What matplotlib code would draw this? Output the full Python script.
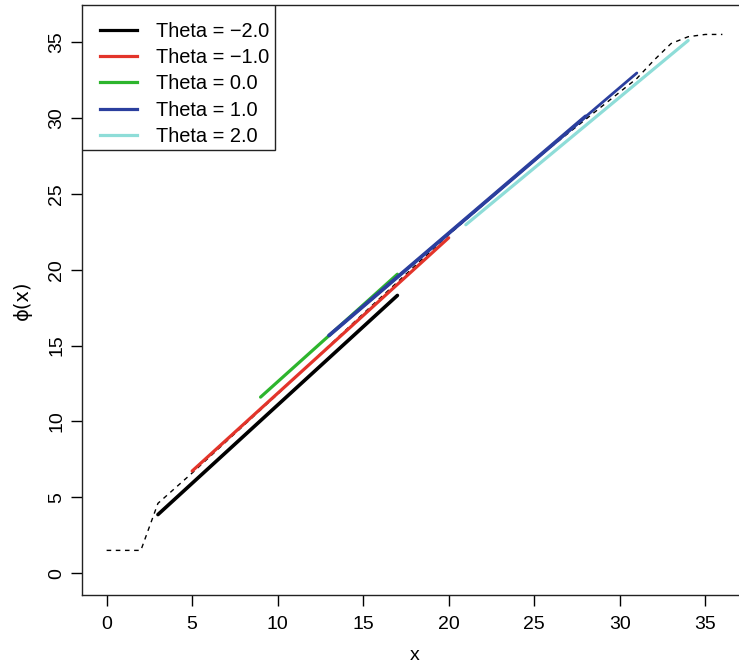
import matplotlib
matplotlib.use("Agg")
import matplotlib.pyplot as plt
from matplotlib.lines import Line2D
from matplotlib.patches import Rectangle

plt.rcParams['font.family'] = ['Liberation Sans', 'DejaVu Sans']

# phi(x) reference curve (dashed)
phi_x = [0, 2, 3, 5, 10, 15, 20, 25, 28, 31, 32, 33, 34, 35, 36]
phi_y = [1.5, 1.5, 4.6, 6.6, 11.8, 17.1, 22.3, 27.2, 29.9, 32.6, 33.8, 34.9, 35.35, 35.5, 35.5]

# fitted linear pieces for each Theta
thetas = [-2.0, -1.0, 0.0, 1.0, 2.0]
x_start = [3, 5, 9, 13, 21]
x_end = [17, 20, 17, 31, 34]
y_start = [3.86, 6.73, 11.6, 15.66, 22.96]
y_end = [18.3, 22.1, 19.7, 32.96, 35.1]
colors = ['#000000', '#E3342A', '#2DB52D', '#2B3F9E', '#8EDDD8']
widths = [2.6, 2.3, 2.3, 2.0, 2.3]

# overlapping sub-range for Theta = 1.0 (drawn heavier)
blue_x = [13, 28]
blue_y = [15.66, 30.1]

fig = plt.figure(figsize=(7.39, 6.67), dpi=100)
ax = fig.add_axes([82 / 739, 72 / 667, 665 / 739, 590 / 667])

ax.plot(phi_x, phi_y, color='black', lw=1.0, linestyle=(0, (3.3, 3.3)))

for xs, xe, ys, ye, c, w in zip(x_start, x_end, y_start, y_end, colors, widths):
    ax.plot([xs, xe], [ys, ye], color=c, lw=w, solid_capstyle='round')
ax.plot(blue_x, blue_y, color=colors[3], lw=2.7, solid_capstyle='round')

ax.set_xlim(-1.44, 37.44)
ax.set_ylim(-1.44, 37.44)
ax.set_xticks(range(0, 40, 5))
ax.set_yticks(range(0, 40, 5))
ax.tick_params(direction='out', length=8, width=1, labelsize=14)
ax.tick_params(axis='x', pad=7)
ax.tick_params(axis='y', pad=4)
plt.setp(ax.get_yticklabels(), rotation=90, va='center')
for s in ax.spines.values():
    s.set_linewidth(1.0)
    s.set_color('#222222')

ax.set_xlabel('x', fontsize=14, labelpad=10)
ax.set_ylabel('ϕ(x)', fontsize=14, labelpad=12, family=['DejaVu Sans'])

# legend frame drawn as a plain rectangle in the upper-left corner
ax.add_patch(Rectangle((0, 0.754), 0.290, 0.246, transform=ax.transAxes,
                       facecolor='white', edgecolor='#222222', lw=1.0, zorder=4))
handles = [Line2D([], [], color=c, lw=2.3) for c in colors]
labels = ['Theta = %s' % ('%.1f' % t).replace('-', '\u2212') for t in thetas]
leg = ax.legend(handles, labels, loc='upper left', bbox_to_anchor=(0.005, 0.9965),
                borderaxespad=0, fontsize=14.4,
                handlelength=1.85, handletextpad=0.95, borderpad=0.75,
                labelspacing=0.36, frameon=False)
leg.set_zorder(5)

fig.savefig('out.png', dpi=100)
